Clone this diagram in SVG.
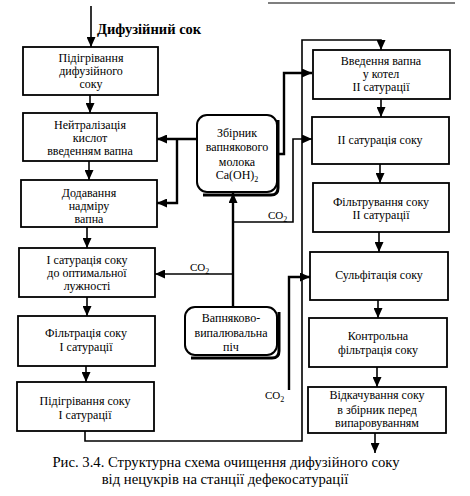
<svg xmlns="http://www.w3.org/2000/svg" width="470" height="496" viewBox="0 0 470 496">
<defs>
<marker id="ah" markerUnits="userSpaceOnUse" markerWidth="10" markerHeight="9" refX="10" refY="4.5" orient="auto">
<path d="M0,0 L10,4.5 L0,9 z" fill="#000"/>
</marker>
<style>
.box{fill:#fff;stroke:#000;stroke-width:1.8}
.rbox{fill:#fff;stroke:#000;stroke-width:2}
.sh{fill:none;stroke:#000;stroke-width:3}
.t{font-family:"Liberation Serif","Times New Roman",serif;font-size:12px;text-anchor:middle;fill:#000}
.c{font-family:"Liberation Serif","Times New Roman",serif;font-size:11px;fill:#000}
.ln{fill:none;stroke:#000;stroke-width:1.6}
.thk{fill:none;stroke:#000;stroke-width:2.4}
.cap{font-family:"Liberation Serif","Times New Roman",serif;font-size:14.7px;text-anchor:middle;fill:#000}
</style>
</defs>
<rect width="470" height="496" fill="#fff"/>
<line x1="268" y1="3" x2="455" y2="3" stroke="#000" stroke-width="1.2"/>
<text x="97" y="34" font-family="Liberation Serif,serif" font-size="14.5" font-weight="bold">Дифузійний сок</text>

<g id="connectors">
<line class="ln" x1="91" y1="6" x2="91" y2="47" marker-end="url(#ah)"/>
<line class="ln" x1="90" y1="95" x2="90" y2="113" marker-end="url(#ah)"/>
<line class="ln" x1="89" y1="161" x2="89" y2="180" marker-end="url(#ah)"/>
<line class="ln" x1="87" y1="227" x2="87" y2="248" marker-end="url(#ah)"/>
<line class="ln" x1="87" y1="297" x2="87" y2="316" marker-end="url(#ah)"/>
<line class="ln" x1="86" y1="366" x2="86" y2="382" marker-end="url(#ah)"/>
<line class="ln" x1="381" y1="99" x2="381" y2="117" marker-end="url(#ah)"/>
<line class="ln" x1="380" y1="164" x2="380" y2="183" marker-end="url(#ah)"/>
<line class="ln" x1="379" y1="232" x2="379" y2="252" marker-end="url(#ah)"/>
<line class="ln" x1="378" y1="300" x2="378" y2="318" marker-end="url(#ah)"/>
<line class="ln" x1="377" y1="367" x2="377" y2="387" marker-end="url(#ah)"/>
<line class="ln" x1="375" y1="433" x2="375" y2="453" marker-end="url(#ah)"/>
<path class="thk" d="M197 139 H157" marker-end="url(#ah)"/>
<path class="thk" d="M177 139 V203 H157" marker-end="url(#ah)"/>
<path class="thk" d="M279 154 H284 V73 H312" marker-end="url(#ah)"/>
<path class="thk" d="M233 307 V193" marker-end="url(#ah)"/>
<path class="ln" d="M233 274 H155" marker-end="url(#ah)"/>
<path class="ln" d="M233 222 H293 V139 H312" marker-end="url(#ah)"/>
<path class="thk" d="M289 390 V277 H310" marker-end="url(#ah)"/>
<path class="ln" d="M85 431 V441 H302 V40 H381 V50" marker-end="url(#ah)"/>
<text class="c" x="190" y="271">CO<tspan font-size="8" dy="3">2</tspan></text>
<text class="c" x="268" y="219">CO<tspan font-size="8" dy="3">2</tspan></text>
<text class="c" x="265" y="399">CO<tspan font-size="8" dy="3">2</tspan></text>
</g>

<g id="n1"><rect class="box" x="23" y="47" width="135" height="48"/>
<text class="t" x="91" y="62">Підігрівання</text><text class="t" x="91" y="75">дифузійного</text><text class="t" x="91" y="88">соку</text></g>
<g id="n2"><rect class="box" x="23" y="113" width="134" height="48"/>
<text class="t" x="90" y="129">Нейтралізація</text><text class="t" x="90" y="142">кислот</text><text class="t" x="90" y="155">введенням вапна</text></g>
<g id="n3"><rect class="box" x="21" y="180" width="136" height="47"/>
<text class="t" x="89" y="197">Додавання</text><text class="t" x="89" y="210">надміру</text><text class="t" x="89" y="223">вапна</text></g>
<g id="n4"><rect class="box" x="19" y="248" width="136" height="49"/>
<text class="t" x="87" y="264">І сатурація соку</text><text class="t" x="87" y="277">до оптимальної</text><text class="t" x="87" y="290">лужності</text></g>
<g id="n5"><rect class="box" x="18" y="316" width="137" height="50"/>
<text class="t" x="86" y="337">Фільтрація соку</text><text class="t" x="86" y="351">І сатурації</text></g>
<g id="n6"><rect class="box" x="17" y="382" width="137" height="49"/>
<text class="t" x="85" y="405">Підігрівання соку</text><text class="t" x="85" y="418.5">І сатурації</text></g>

<g id="zbirnyk"><path class="sh" d="M278 120 V188 Q278 195 271 195 H203"/>
<rect class="rbox" x="197" y="115" width="80" height="77" rx="10"/>
<text class="t" x="237" y="137">Збірник</text><text class="t" x="237" y="151">вапнякового</text><text class="t" x="237" y="166">молока</text><text class="t" x="237" y="179">Ca(OH)<tspan font-size="8" dy="3">2</tspan></text></g>
<g id="pich"><path class="sh" d="M279 312 V351 Q279 358 272 358 H191"/>
<rect class="rbox" x="185" y="307" width="92" height="48" rx="10"/>
<text class="t" x="231" y="322">Вапняково-</text><text class="t" x="231" y="337">випалювальна</text><text class="t" x="231" y="351">піч</text></g>

<g id="r1"><rect class="box" x="313" y="50" width="137" height="49"/>
<text class="t" x="381" y="65">Введення вапна</text><text class="t" x="381" y="78">у котел</text><text class="t" x="381" y="91">II сатурації</text></g>
<g id="r2"><rect class="box" x="312" y="117" width="137" height="47"/>
<text class="t" x="380" y="144">II сатурація соку</text></g>
<g id="r3"><rect class="box" x="313" y="183" width="136" height="49"/>
<text class="t" x="381" y="206">Фільтрування соку</text><text class="t" x="381" y="219">II сатурації</text></g>
<g id="r4"><rect class="box" x="310" y="252" width="138" height="48"/>
<text class="t" x="379" y="279">Сульфітація соку</text></g>
<g id="r5"><rect class="box" x="309" y="318" width="138" height="49"/>
<text class="t" x="378" y="340">Контрольна</text><text class="t" x="378" y="353.5">фільтрація соку</text></g>
<g id="r6"><rect class="box" x="308" y="387" width="138" height="46"/>
<text class="t" x="377" y="399">Відкачування соку</text><text class="t" x="377" y="414">в збірник перед</text><text class="t" x="377" y="427">випаровуванням</text></g>

<text class="cap" x="226" y="467">Рис. 3.4. Структурна схема очищення дифузійного соку</text>
<text class="cap" x="225" y="484">від нецукрів на станції дефекосатурації</text>
</svg>
